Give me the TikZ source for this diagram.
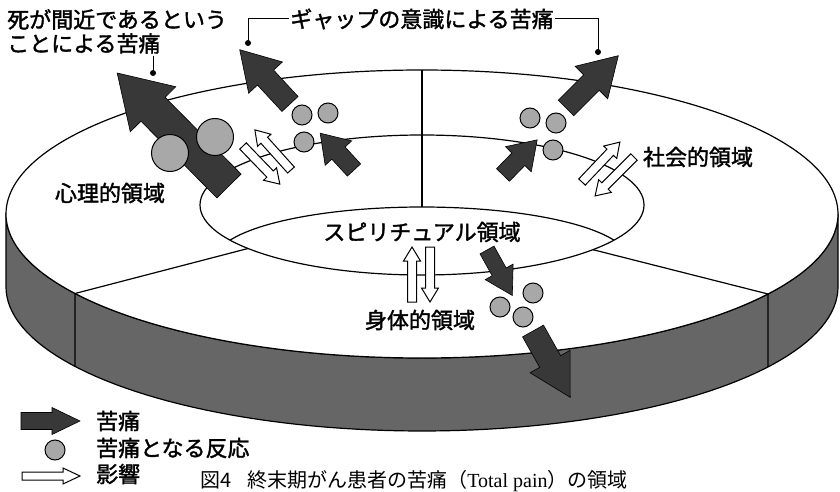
\documentclass[tikz,border=0pt]{standalone}
\usepackage{fontspec}
\newfontfamily\jp{Noto Sans CJK JP}[FakeBold=1.6]
\newfontfamily\jpcap{Noto Sans CJK JP}
\newfontfamily\capserif{Liberation Serif}
\definecolor{sidegray}{gray}{0.40}
\definecolor{paindark}{gray}{0.22}
\definecolor{reactgray}{gray}{0.66}
\tikzset{
 outline/.style={draw=black, line width=1.2pt},
 pain/.style={fill=paindark, draw=black, line width=0.6pt, line join=miter},
 react/.style={fill=reactgray, draw=black, line width=1pt},
 infl/.style={fill=white, draw=black, line width=1pt},
 lbl/.style={font=\jp\fontsize{22}{24}\selectfont, inner sep=1pt},
 lead/.style={draw=black, line width=1pt},
 leaddot/.style={fill=black, draw=none},
}
% #1 style, #2 x, #3 y (tail centre), #4 angle, #5 length, #6 half shaft, #7 half head, #8 head length
\newcommand{\tpArrow}[8]{%
  \draw[#1,shift={(#2,#3)},rotate=#4] (0,#6) -- ({#5-#8},#6) -- ({#5-#8},#7) -- (#5,0)
     -- ({#5-#8},-#7) -- ({#5-#8},-#6) -- (0,-#6) -- cycle;}
\begin{document}
\begin{tikzpicture}[x=1pt,y=-1pt]
\useasboundingbox (0,0) rectangle (840,492);
\fill[white] (0,0) rectangle (840,492);
\clip (0,0) rectangle (840,492);

% cylinder side
\filldraw[fill=sidegray, draw=black, line width=1.2pt] (6,214) -- (6,287)
  -- plot[domain=180:0, samples=90] ({422+416*cos(\x)},{287+144*sin(\x)})
  -- (838,214)
  -- plot[domain=0:180, samples=90] ({422+416*cos(\x)},{214+144*sin(\x)}) -- cycle;
% top surface
\filldraw[fill=white, draw=black, line width=1.2pt] (422,214) ellipse [x radius=416, y radius=144];
% inner hole
\draw[outline] (422,205) ellipse [x radius=222, y radius=70];
% spiritual arc
\draw[outline] plot[domain=202:338, samples=60] ({422+207*cos(\x)},{260+53*sin(\x)});

% dividers
\coordinate (topO) at (422,70);
\coordinate (topI) at (422,207);
\draw[outline] (topO) -- (topI);
\coordinate (leftI) at (248,248.5);
\coordinate (leftO) at (75,293.5);
\coordinate (leftB) at (75,366.5);
\draw[outline] (leftI) -- (leftO) -- (leftB);
\coordinate (rightI) at (593,249.7);
\coordinate (rightO) at (768,294);
\coordinate (rightB) at (768,367);
\draw[outline] (rightI) -- (rightO) -- (rightB);

% pain arrows
\tpArrow{pain}{229}{186}{134.7}{159}{17}{32}{51}
\tpArrow{pain}{290}{104}{132.8}{74}{11}{23}{38}
\tpArrow{pain}{566}{108}{45}{74}{11}{23}{38}
\tpArrow{pain}{354}{170}{132.6}{50}{9}{18}{27}
\tpArrow{pain}{503}{175}{45.8}{49}{9}{18}{27}
\tpArrow{pain}{487}{250}{-60.9}{52}{8}{16}{27}
\tpArrow{pain}{533}{331}{-60.7}{76}{12}{23}{41}

% reactions
\path[react] (170,153) circle [radius=18.5];
\path[react] (215,137) circle [radius=18.5];
\foreach \cx/\cy in {302/115, 328/113, 304/142, 530/118, 556/123, 553/150, 533/293, 500/307, 523/317}
  \path[react] (\cx,\cy) circle [radius=10];

% influence arrows
\tpArrow{infl}{291}{170}{132}{54}{4.5}{9}{14}
\tpArrow{infl}{243}{146}{-46}{53}{4.5}{9}{14}
\tpArrow{infl}{582}{182}{46.5}{55}{4.5}{9}{14}
\tpArrow{infl}{634}{157}{-135}{55}{4.5}{9}{14}
\tpArrow{infl}{412}{302}{90}{55}{4.5}{8.5}{14}
\tpArrow{infl}{430}{247}{-90}{55}{4.5}{8.5}{14}

% top labels and leaders
\node[lbl, anchor=north west, align=left] (death) at (6,8) {死が間近であるという\\ことによる苦痛};
\coordinate (deathdot) at (153,73);
\draw[lead] (deathdot) -- (153,56);
\fill[leaddot] (deathdot) circle [radius=3];

\node[lbl] (gap) at (422,19) {ギャップの意識による苦痛};
\coordinate (gapL) at (248,43);
\coordinate (gapR) at (598,52);
\draw[lead] (gap.west) -| (gapL);
\draw[lead] (gap.east) -| (gapR);
\fill[leaddot] (gapL) circle [radius=3];
\fill[leaddot] (gapR) circle [radius=3];

% domain labels
\node[lbl] (psy) at (110,193) {心理的領域};
\node[lbl] (soc) at (698,157) {社会的領域};
\node[lbl] (spi) at (422,232) {スピリチュアル領域};
\node[lbl] (phy) at (420,320) {身体的領域};

% legend
\tpArrow{pain}{21}{421}{0}{59}{8.5}{13.5}{28}
\path[react] (55,450) circle [radius=10];
\tpArrow{infl}{22}{476}{0}{58}{4}{8}{17}
\node[lbl, anchor=west] (lg1) at (95,421) {苦痛};
\node[lbl, anchor=west] (lg2) at (95,448) {苦痛となる反応};
\node[lbl, anchor=west] (lg3) at (95,474) {影響};

% caption
\node[font=\jpcap\fontsize{20}{22}\selectfont, anchor=west, inner sep=0pt] (cap) at (200,481.5)
  {図4\hspace{0.8em}終末期がん患者の苦痛（{\capserif Total pain}）の領域};
\end{tikzpicture}
\end{document}
